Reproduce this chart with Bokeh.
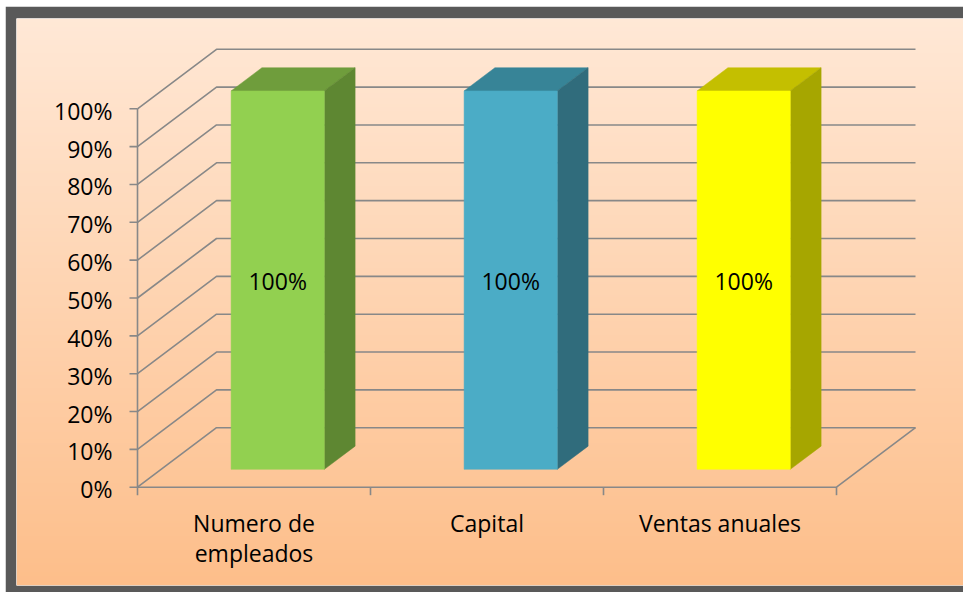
import numpy as np
from bokeh.plotting import figure
from bokeh.models import ColumnDataSource, Range1d
from bokeh.embed import file_html
from bokeh.resources import INLINE
from bokeh.core.properties import value

# ---------------- data ----------------
categories = ["Numero de\nempleados", "Capital", "Ventas anuales"]
values = [100, 100, 100]
data_labels = ["100%", "100%", "100%"]
tick_values = [0, 10, 20, 30, 40, 50, 60, 70, 80, 90, 100]
tick_labels = ["0%", "10%", "20%", "30%", "40%", "50%", "60%", "70%", "80%", "90%", "100%"]

# ---------------- styles ----------------
front_colors = ["#92D050", "#4BACC6", "#FFFF00"]
top_colors = ["#6F9D3C", "#378497", "#C4BF00"]
side_colors = ["#5E8732", "#306C7C", "#A6A600"]
GRID = "#888888"
FONT = value("Open Sans")
FS = "23px"

# ---------------- layout ----------------
W, H = 958, 586
BL, BT, BB, BR = 11, 12, 7, 0
PX_CAT = 233.0
PX_PCT = 3.784
AXIS_X_PX = 121.0   # axis origin from frame left
AXIS_Y_PX = 98.3    # axis origin from frame bottom
frame_w = W - BL - BR
frame_h = H - BT - BB
x0 = -AXIS_X_PX / PX_CAT
x1 = x0 + frame_w / PX_CAT
y0 = -AXIS_Y_PX / PX_PCT
y1 = y0 + frame_h / PX_PCT

DX = 79.0 / PX_CAT      # depth of the 3D box in category units
DY = 59.5 / PX_PCT      # depth of the 3D box in percent units
BAR_F0, BAR_F1 = 0.30, 0.69
BAR_W = 0.40
TICK_X = 8.0 / PX_CAT
TICK_Y = 8.0 / PX_PCT

ncat = len(categories)

p = figure(width=W, height=H, output_backend="svg", toolbar_location=None,
           x_range=Range1d(x0, x1), y_range=Range1d(y0, y1),
           x_axis_location=None, y_axis_location=None, title=None,
           min_border_left=BL, min_border_top=BT, min_border_bottom=BB,
           min_border_right=BR)
p.margin = (6, 0, 0, 5)
p.border_fill_color = "#595959"
p.outline_line_color = None
p.xgrid.visible = False
p.ygrid.visible = False

# background gradient (bottom -> top)
n = 256
t = np.linspace(0, 1, n)
c_top = np.array([255, 232, 214])
c_bot = np.array([253, 190, 138])
cols = (c_bot[None, :] + (c_top - c_bot)[None, :] * t[:, None]).round().astype(np.uint8)
img = np.zeros((n, 1), dtype=np.uint32)
view = img.view(dtype=np.uint8).reshape((n, 1, 4))
view[:, 0, 0] = cols[:, 0]
view[:, 0, 1] = cols[:, 1]
view[:, 0, 2] = cols[:, 2]
view[:, 0, 3] = 255
p.image_rgba(image=[img], x=x0, y=y0, dw=x1 - x0, dh=y1 - y0)

# back wall + side wall gridlines
gx, gy = [], []
for v in tick_values:
    gx.append([0, DX, ncat + DX])
    gy.append([v, v + DY, v + DY])
p.multi_line(gx, gy, line_color=GRID, line_width=1.6)

# floor front and right edges, front axis line
p.multi_line([[0, ncat, ncat + DX], [0, 0]],
             [[0, 0, DY], [0, tick_values[-1]]],
             line_color=GRID, line_width=1.6)

# y ticks
p.segment(x0=[0] * len(tick_values), y0=tick_values,
          x1=[-TICK_X] * len(tick_values), y1=tick_values,
          line_color=GRID, line_width=1.6)
# category ticks
p.segment(x0=list(range(ncat + 1)), y0=[0] * (ncat + 1),
          x1=list(range(ncat + 1)), y1=[-TICK_Y] * (ncat + 1),
          line_color=GRID, line_width=1.6)

# bars
fx, fy = BAR_F0 * DX, BAR_F0 * DY
ddx, ddy = (BAR_F1 - BAR_F0) * DX, (BAR_F1 - BAR_F0) * DY
fxs, fys, sxs, sys_, txs, tys = [], [], [], [], [], []
for i, v in enumerate(values):
    c = i + 0.5
    l = c - BAR_W / 2 + fx
    r = c + BAR_W / 2 + fx
    b = fy
    tp = fy + v
    fxs.append([l, r, r, l]); fys.append([b, b, tp, tp])
    sxs.append([r, r + ddx, r + ddx, r]); sys_.append([b, b + ddy, tp + ddy, tp])
    txs.append([l, r, r + ddx, l + ddx]); tys.append([tp, tp, tp + ddy, tp + ddy])

p.patches(txs, tys, fill_color=top_colors, line_color=top_colors, line_width=0.5)
p.patches(sxs, sys_, fill_color=side_colors, line_color=side_colors, line_width=0.5)
p.patches(fxs, fys, fill_color=front_colors, line_color=front_colors, line_width=0.5)

# data labels
p.text(x=[i + 0.5 + fx for i in range(ncat)], y=[fy + v / 2 for v in values],
       text=data_labels, text_align="center", text_baseline="middle",
       text_font=FONT, text_font_size=FS, text_color="#000000", y_offset=1)

# y tick labels
p.text(x=[0] * len(tick_values), y=tick_values, text=tick_labels,
       x_offset=-25, y_offset=2, text_align="right", text_baseline="middle",
       text_font=FONT, text_font_size=FS, text_color="#000000")

# category labels
lx, ly, lt, lo = [], [], [], []
for i, cat in enumerate(categories):
    for j, line in enumerate(cat.split("\n")):
        lx.append(i + 0.5); ly.append(0); lt.append(line); lo.append(36 + 30 * j)
src = ColumnDataSource(dict(x=lx, y=ly, text=lt, yo=lo))
p.text(x="x", y="y", text="text", y_offset="yo", source=src,
       text_align="center", text_baseline="middle",
       text_font=FONT, text_font_size=FS, text_color="#000000")

open("out.html", "w").write(file_html(p, INLINE))
